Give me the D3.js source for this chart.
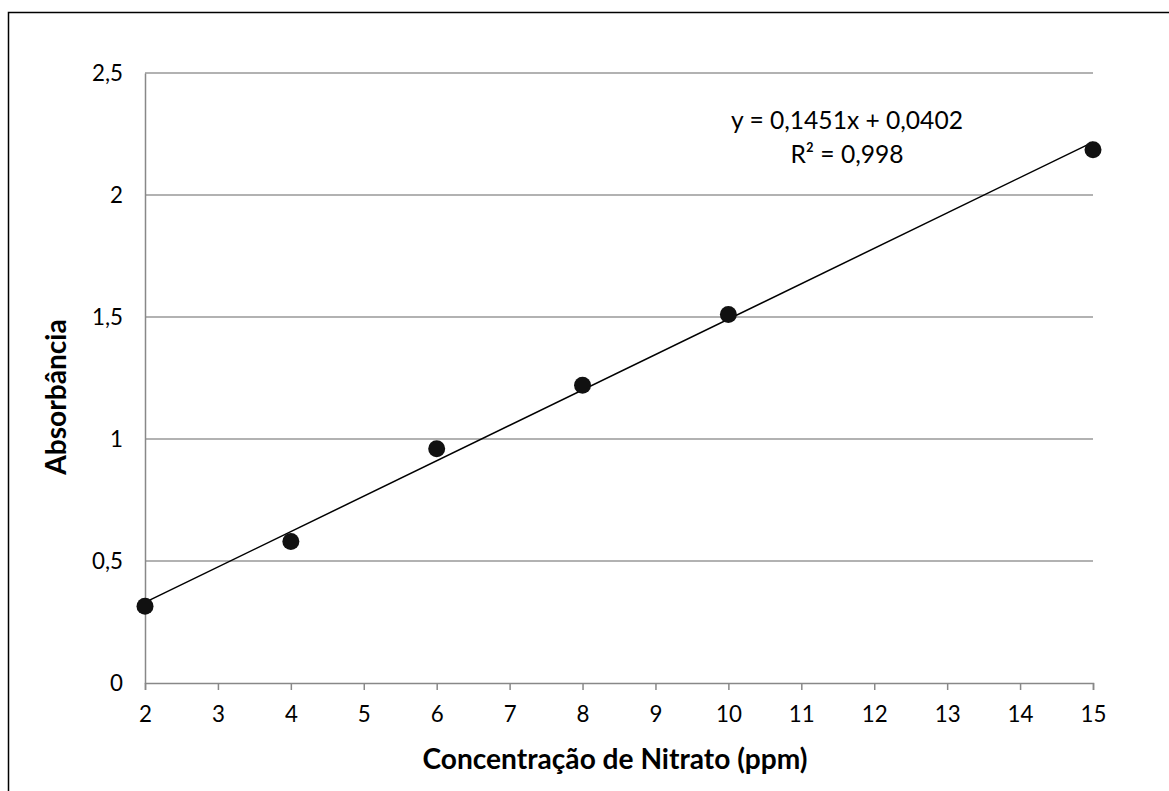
<!DOCTYPE html>
<html>
<head>
<meta charset="utf-8">
<script src="https://cdn.jsdelivr.net/npm/d3@7"></script>
<style>
  body { margin: 0; background: #fff; }
  svg { display: block; font-family: Lato, "Open Sans", sans-serif; }
</style>
</head>
<body>
<svg id="chart" width="1169" height="791"></svg>
<script>
// data
const concentrations = [2, 4, 6, 8, 10, 15];
const absorbances = [0.315, 0.58, 0.96, 1.22, 1.51, 2.185];
const xTicks = [2, 3, 4, 5, 6, 7, 8, 9, 10, 11, 12, 13, 14, 15];
const yTicks = [0, 0.5, 1, 1.5, 2, 2.5];
const slope = 0.1451, intercept = 0.0402;
const equationLines = ["y = 0,1451x + 0,0402", "R² = 0,998"];
const xTitle = "Concentração de Nitrato (ppm)";
const yTitle = "Absorbância";

const svg = d3.select("#chart");
const margin = { left: 145, right: 1093, top: 73, bottom: 683 };

const x = d3.scaleLinear().domain([2, 15]).range([margin.left, margin.right]);
const y = d3.scaleLinear().domain([0, 2.5]).range([margin.bottom, margin.top]);
const fmt = d => String(d).replace(".", ",");

// font size that makes `str` about `width` px wide (Calibri stand-in)
function fitSize(str, width, weight) {
    const probe = svg.append("text")
        .attr("font-size", 20).attr("font-weight", weight || "normal")
        .attr("font-family", "Lato, sans-serif")
        .text(str);
    const w = probe.node().getComputedTextLength();
    probe.remove();
    return 20 * width / w;
}
const tickFont = fitSize("2,5", 31);
const eqFont = fitSize(equationLines[0], 232);
const titleFont = fitSize(xTitle, 385, "bold");

// outer frame (runs off right/bottom edge like the source)
svg.append("rect")
    .attr("x", 8.5).attr("y", 12.5)
    .attr("width", 1200).attr("height", 900)
    .attr("fill", "none").attr("stroke", "#000").attr("stroke-width", 1.5);

// horizontal gridlines
svg.append("g")
    .selectAll("line")
    .data(yTicks.filter(d => d > 0))
    .join("line")
    .attr("x1", x(2)).attr("x2", x(15))
    .attr("y1", d => y(d)).attr("y2", d => y(d))
    .attr("stroke", "#999").attr("stroke-width", 1.5);

// x axis
const xAxis = svg.append("g")
    .attr("transform", `translate(0,${y(0)})`)
    .call(d3.axisBottom(x).tickValues(xTicks).tickSize(7).tickPadding(16).tickFormat(fmt));
xAxis.select(".domain").attr("stroke", "#888").attr("stroke-width", 1.5);
xAxis.selectAll(".tick line").attr("stroke", "#888").attr("stroke-width", 1.5);
xAxis.selectAll("text").attr("font-size", tickFont).attr("fill", "#000")
    .attr("font-family", "Lato, sans-serif");

// y axis
const yAxis = svg.append("g")
    .attr("transform", `translate(${x(2)},0)`)
    .call(d3.axisLeft(y).tickValues(yTicks).tickSize(0).tickPadding(22).tickFormat(fmt));
yAxis.select(".domain").attr("stroke", "#888").attr("stroke-width", 1.5);
yAxis.selectAll("text").attr("font-size", tickFont).attr("fill", "#000")
    .attr("font-family", "Lato, sans-serif");

// linear trendline
svg.append("line")
    .attr("x1", x(2)).attr("y1", y(slope * 2 + intercept))
    .attr("x2", x(15)).attr("y2", y(slope * 15 + intercept))
    .attr("stroke", "#000").attr("stroke-width", 1.5);

// data points
svg.append("g")
    .selectAll("circle")
    .data(concentrations.map((c, i) => [c, absorbances[i]]))
    .join("circle")
    .attr("cx", d => x(d[0])).attr("cy", d => y(d[1]))
    .attr("r", 8.5)
    .attr("fill", "#111");

// trendline equation
svg.append("g")
    .selectAll("text")
    .data(equationLines)
    .join("text")
    .attr("x", 847).attr("y", (d, i) => 129 + i * 33.5)
    .attr("text-anchor", "middle")
    .attr("font-size", eqFont)
    .text(d => d);

// axis titles
svg.append("text")
    .attr("x", 615).attr("y", 769)
    .attr("text-anchor", "middle")
    .attr("font-size", titleFont).attr("font-weight", "bold")
    .text(xTitle);

svg.append("text")
    .attr("transform", "translate(66,397) rotate(-90)")
    .attr("text-anchor", "middle")
    .attr("font-size", titleFont).attr("font-weight", "bold")
    .text(yTitle);
</script>
</body>
</html>
